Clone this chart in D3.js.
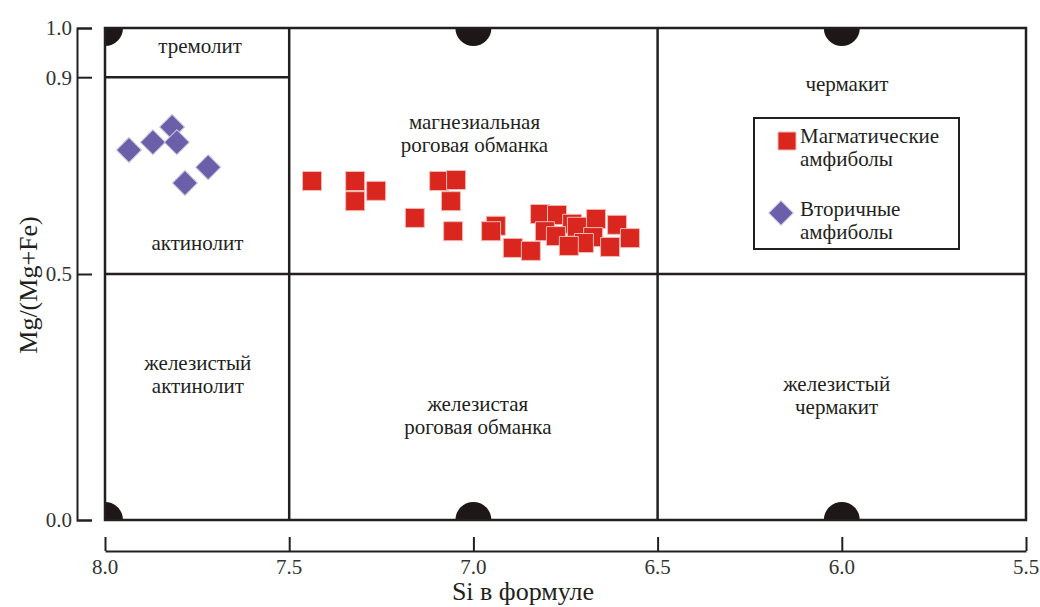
<!DOCTYPE html>
<html>
<head>
<meta charset="utf-8">
<script src="https://cdn.jsdelivr.net/npm/d3@7"></script>
<style>
  body { margin: 0; background: #fff; }
</style>
</head>
<body>
<svg id="chart" width="1040" height="607"></svg>
<script>
// Si in formula / Mg/(Mg+Fe) for each group
const magmaticSi = [7.438, 7.321, 7.321, 7.264, 7.159, 7.093, 7.047, 7.061, 7.055, 6.939, 6.952,
  6.893, 6.844, 6.819, 6.773, 6.732, 6.719, 6.667, 6.610, 6.806, 6.776, 6.675, 6.700, 6.741, 6.629, 6.575];
const magmaticMg = [0.689, 0.689, 0.648, 0.669, 0.614, 0.689, 0.691, 0.648, 0.587, 0.598, 0.587,
  0.553, 0.547, 0.622, 0.620, 0.602, 0.596, 0.612, 0.600, 0.587, 0.577, 0.575, 0.563, 0.557, 0.555, 0.573];
const secondarySi = [7.935, 7.870, 7.818, 7.805, 7.720, 7.783];
const secondaryMg = [0.752, 0.768, 0.799, 0.768, 0.717, 0.685];

const xTicks = [8.0, 7.5, 7.0, 6.5, 6.0, 5.5];
const yTicks = [0.0, 0.5, 0.9, 1.0];

// field boundaries
const vBounds = [7.5, 6.5];       // full-height vertical lines
const hBound = 0.5;               // full-width horizontal line
const tremoliteBound = 0.9;       // from 8.0 to 7.5 only

// black half-discs on the frame
const discSi = [8.0, 7.0, 6.0];
const discMg = [0.0, 1.0];

// field names: position (Si, Mg) of first line
const fieldSi = [7.742, 7.749, 6.997, 5.986, 7.748, 6.988, 6.014];
const fieldMg = [0.949, 0.548, 0.794, 0.872, 0.305, 0.222, 0.262];
const fieldText = [
  ["тремолит"],
  ["актинолит"],
  ["магнезиальная", "роговая обманка"],
  ["чермакит"],
  ["железистый", "актинолит"],
  ["железистая", "роговая обманка"],
  ["железистый", "чермакит"]
];

const legendLabels = [["Магматические", "амфиболы"], ["Вторичные", "амфиболы"]];

const red = "#d9261f", purple = "#6a5fa8", ink = "#231f20";
const serif = "Liberation Serif, DejaVu Serif, serif";
const fmt = d3.format(".1f");

const svg = d3.select("#chart");
const x = d3.scaleLinear().domain([8.0, 5.5]).range([105, 1026]);
const y = d3.scaleLinear().domain([0, 1]).range([520, 28]);

svg.append("defs").append("clipPath").attr("id", "plot")
  .append("rect")
  .attr("x", x(8)).attr("y", y(1))
  .attr("width", x(5.5) - x(8)).attr("height", y(0) - y(1));

// half discs
const discs = [];
discSi.forEach(s => discMg.forEach(m => discs.push({ s, m })));
svg.append("g").attr("clip-path", "url(#plot)")
  .selectAll("circle").data(discs).join("circle")
  .attr("cx", d => x(d.s)).attr("cy", d => y(d.m)).attr("r", 18)
  .attr("fill", "#1e1718");

// frame
svg.append("rect")
  .attr("x", x(8)).attr("y", y(1))
  .attr("width", x(5.5) - x(8)).attr("height", y(0) - y(1))
  .attr("fill", "none").attr("stroke", ink).attr("stroke-width", 2.5);

const lines = svg.append("g").attr("stroke", ink).attr("stroke-width", 2.5);
lines.selectAll("line.v").data(vBounds).join("line").attr("class", "v")
  .attr("x1", d => x(d)).attr("x2", d => x(d)).attr("y1", y(1)).attr("y2", y(0));
lines.append("line")
  .attr("x1", x(8)).attr("x2", x(5.5)).attr("y1", y(hBound)).attr("y2", y(hBound));
lines.append("line")
  .attr("x1", x(8)).attr("x2", x(7.5)).attr("y1", y(tremoliteBound)).attr("y2", y(tremoliteBound));

// axes (ticks from d3, labels drawn as own text)
const yAxis = svg.append("g").attr("transform", "translate(77,0)")
  .call(d3.axisRight(y).tickValues(yTicks).tickFormat("").tickSize(15).tickSizeOuter(15));
yAxis.selectAll("path, line").attr("stroke", ink).attr("stroke-width", 2);
svg.append("g").selectAll("text").data(yTicks).join("text")
  .attr("x", 72).attr("y", d => y(d)).attr("dy", "0.35em")
  .attr("text-anchor", "end").attr("fill", "#333")
  .style("font-family", serif).style("font-size", "21px")
  .text(fmt);

const xAxis = svg.append("g").attr("transform", "translate(0,551)")
  .call(d3.axisTop(x).tickValues(xTicks).tickFormat("").tickSize(14).tickSizeOuter(0));
xAxis.selectAll("path, line").attr("stroke", ink).attr("stroke-width", 2);
svg.append("g").selectAll("text").data(xTicks).join("text")
  .attr("x", d => x(d)).attr("y", 574)
  .attr("text-anchor", "middle").attr("fill", "#333")
  .style("font-family", serif).style("font-size", "21px")
  .text(fmt);

svg.append("text")
  .attr("transform", "translate(37,285) rotate(-90)")
  .attr("text-anchor", "middle")
  .style("font-family", serif).style("font-size", "26px").attr("fill", ink)
  .text("Mg/(Mg+Fe)");
svg.append("text")
  .attr("x", 523).attr("y", 600)
  .attr("text-anchor", "middle")
  .style("font-family", serif).style("font-size", "26px").attr("fill", ink)
  .text("Si в формуле");

// field labels
fieldText.forEach((lns, i) => {
  const t = svg.append("text")
    .attr("x", x(fieldSi[i])).attr("y", y(fieldMg[i]))
    .attr("text-anchor", "middle")
    .style("font-family", serif).style("font-size", "21px").attr("fill", ink);
  lns.forEach((l, j) => t.append("tspan").attr("x", x(fieldSi[i])).attr("dy", j ? 23 : 0).text(l));
});

// data
const magmatic = magmaticSi.map((s, i) => ({ s, m: magmaticMg[i] }));
const secondary = secondarySi.map((s, i) => ({ s, m: secondaryMg[i] }));

svg.append("g").selectAll("path").data(magmatic).join("path")
  .attr("d", d3.symbol(d3.symbolSquare, 361))
  .attr("transform", d => `translate(${x(d.s)},${y(d.m)})`)
  .attr("fill", red).attr("stroke", "#f3b9b3").attr("stroke-width", 1);

svg.append("g").selectAll("path").data(secondary).join("path")
  .attr("d", d3.symbol(d3.symbolSquare, 310))
  .attr("transform", d => `translate(${x(d.s)},${y(d.m)}) rotate(45)`)
  .attr("fill", purple).attr("stroke", "#c9c4e2").attr("stroke-width", 1);

// legend
const lg = svg.append("g").attr("transform", "translate(754,118)");
lg.append("rect").attr("width", 205).attr("height", 131)
  .attr("fill", "#fff").attr("stroke", ink).attr("stroke-width", 2);
lg.append("path").attr("d", d3.symbol(d3.symbolSquare, 324))
  .attr("transform", "translate(33,23)").attr("fill", red).attr("stroke", "#f3b9b3");
lg.append("path").attr("d", d3.symbol(d3.symbolSquare, 300))
  .attr("transform", "translate(27,95) rotate(45)").attr("fill", purple).attr("stroke", "#c9c4e2");
legendLabels.forEach((lns, i) => {
  const t = lg.append("text").attr("x", 46).attr("y", i ? 98 : 25)
    .style("font-family", serif).style("font-size", "21px").attr("fill", ink);
  lns.forEach((l, j) => t.append("tspan").attr("x", 46).attr("dy", j ? 23 : 0).text(l));
});
</script>
</body>
</html>
